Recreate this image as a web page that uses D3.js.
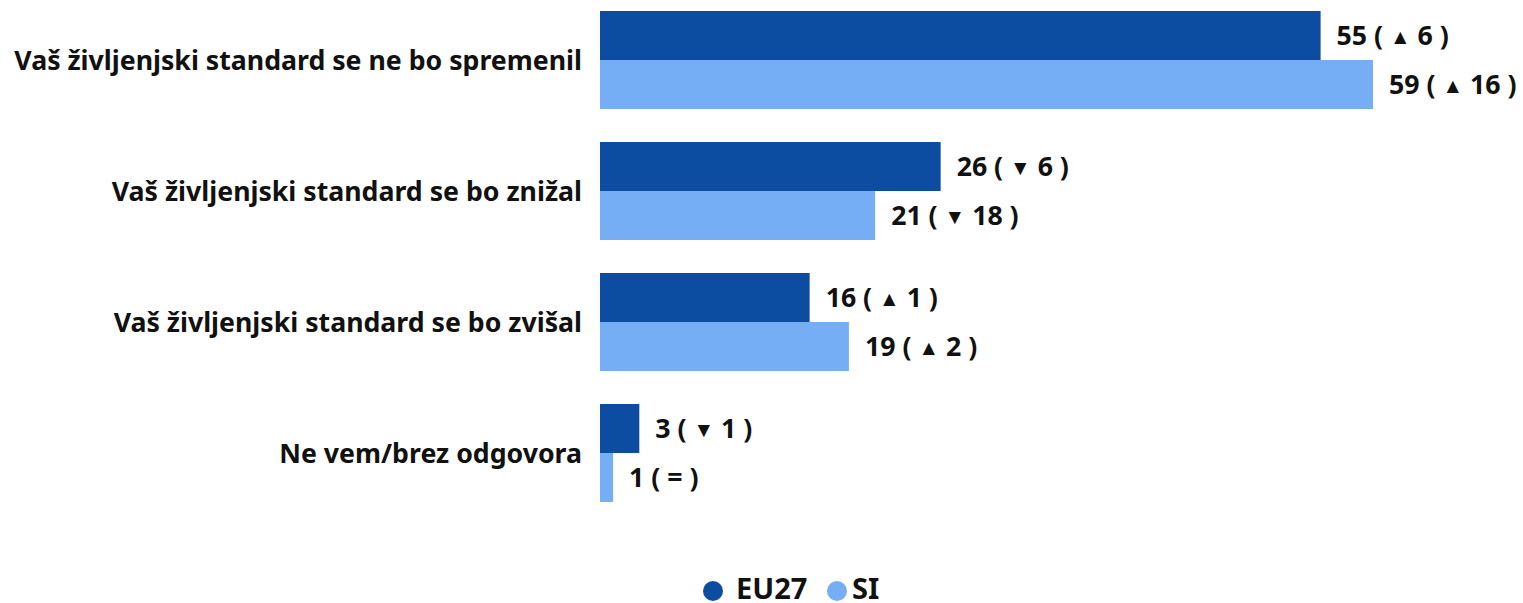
<!DOCTYPE html>
<html>
<head>
<meta charset="utf-8">
<script src="https://cdn.jsdelivr.net/npm/d3@7"></script>
<style>
  body { margin: 0; background: #fff; }
  svg { display: block; font-family: "Noto Sans", sans-serif; font-weight: 700; }
</style>
</head>
<body>
<svg id="chart" width="1523" height="603"></svg>
<script>
// data
const categories = [
  "Vaš življenjski standard se ne bo spremenil",
  "Vaš življenjski standard se bo znižal",
  "Vaš življenjski standard se bo zvišal",
  "Ne vem/brez odgovora"
];
const seriesNames = ["EU27", "SI"];
const eu27 = [55, 26, 16, 3];
const si = [59, 21, 19, 1];
// change vs previous wave: sign gives arrow, 0 -> "="
const eu27Change = [6, -6, 1, -1];
const siChange = [16, -18, 2, 0];

const colors = ["#0c4da2", "#76aef5"];

const svg = d3.select("#chart");
const left = 600;

const x = d3.scaleLinear().domain([0, 59]).range([0, 773]);

const yg = d3.scaleBand().domain(categories).range([11, 502]).paddingInner(33 / 131).paddingOuter(0);
const ys = d3.scaleBand().domain(seriesNames).range([0, yg.bandwidth()]);

const rows = [];
categories.forEach((c, i) => {
  rows.push({ cat: c, s: 0, v: eu27[i], ch: eu27Change[i] });
  rows.push({ cat: c, s: 1, v: si[i], ch: siChange[i] });
});

// fit label font so the longest label spans like the original (~568px)
const probe = svg.append("text").attr("font-size", 100).text(categories[0]);
const labelSize = Math.min(27, 100 * 568 / probe.node().getComputedTextLength());
probe.remove();

const g = svg.append("g");

g.selectAll("rect")
  .data(rows)
  .join("rect")
  .attr("x", left)
  .attr("y", d => yg(d.cat) + ys(seriesNames[d.s]))
  .attr("width", d => x(d.v))
  .attr("height", ys.bandwidth())
  .attr("fill", d => colors[d.s]);

const vals = g.selectAll("text.val")
  .data(rows)
  .join("text")
  .attr("class", "val")
  .attr("x", d => left + x(d.v) + 16)
  .attr("y", d => yg(d.cat) + ys(seriesNames[d.s]) + ys.bandwidth() / 2)
  .attr("dy", "0.36em")
  .attr("font-size", labelSize)
  .attr("fill", "#111");

vals.each(function(d) {
  const t = d3.select(this);
  t.append("tspan").text(d.v + " ( ");
  if (d.ch === 0) {
    t.append("tspan").text("= )");
  } else {
    t.append("tspan").attr("font-size", labelSize * 0.78).attr("dy", "-0.05em")
      .text(d.ch > 0 ? "▲" : "▼");
    t.append("tspan").attr("dy", "0.05em").text(" " + Math.abs(d.ch) + " )");
  }
});

g.selectAll("text.cat")
  .data(categories)
  .join("text")
  .attr("class", "cat")
  .attr("x", 582)
  .attr("y", d => yg(d) + yg.bandwidth() / 2)
  .attr("dy", "0.36em")
  .attr("text-anchor", "end")
  .attr("font-size", labelSize)
  .attr("fill", "#111")
  .text(d => d);

// legend
const legend = svg.append("g").attr("transform", "translate(0,589)");
const circleX = [713, 837];
const textX = [736, 852];
seriesNames.forEach((s, i) => {
  legend.append("circle").attr("cx", circleX[i]).attr("cy", 2).attr("r", 10).attr("fill", colors[i]);
  legend.append("text").attr("x", textX[i]).attr("y", 0).attr("dy", "0.34em")
    .attr("font-size", 29).attr("fill", "#111").text(s);
});
</script>
</body>
</html>
